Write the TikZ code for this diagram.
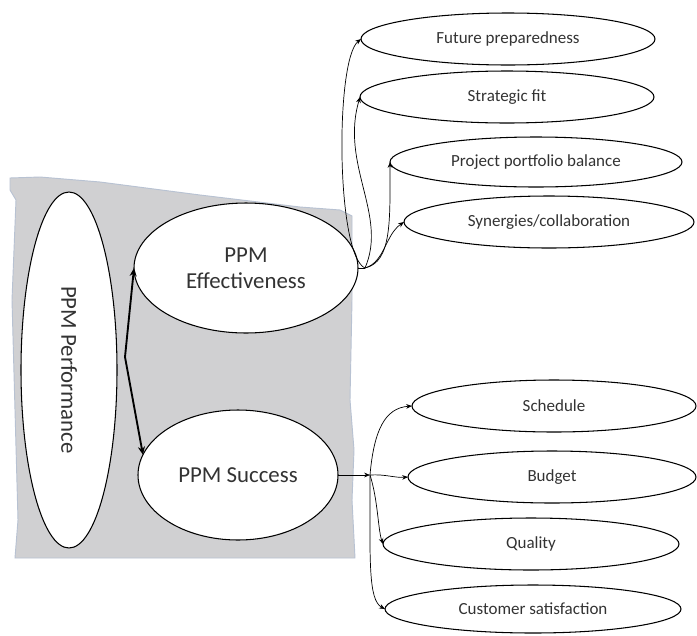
\documentclass[tikz,border=0pt]{standalone}
\usepackage{fontspec}
\setmainfont{Carlito}
\usetikzlibrary{shapes.geometric,arrows.meta}

\begin{document}
\begin{tikzpicture}[x=0.03cm,y=-0.03cm,
    oval/.style={draw=borderColour, line width=0.9pt, fill=white, ellipse, inner sep=0pt, outer sep=0pt, text=textColour},
    bigOval/.style={oval, font=\fontsize{19.5}{22}\selectfont, align=center},
    smallOval/.style={oval, font=\fontsize{14.5}{17}\selectfont},
    link/.style={line width=0.6pt, -{Stealth[length=5pt,width=4pt]}},
    bigLink/.style={line width=1.6pt, -{Stealth[length=7pt,width=6pt]}}]
    \definecolor{borderColour}{HTML}{000000}
    \definecolor{fillColour}{HTML}{D0D0D2}
    \definecolor{edgeColour}{HTML}{B8C2D2}
    \definecolor{textColour}{HTML}{333333}

    \def\px{0.03cm}

    \useasboundingbox (0,0) rectangle (697,635);

    % Grey background
    \filldraw[fill=fillColour, draw=edgeColour, line width=0.8pt]
        (10,178) -- (40,177) -- (100,182) -- (200,195) -- (300,207) -- (340,210)
        -- (352,216) -- (352,300) -- (350,400) -- (354,450) -- (352,500) -- (355,558)
        -- (15,558) -- (18,520) -- (12,300) -- (16,200) -- (10,190) -- cycle;

    % Main constructs
    \node[oval, rotate=-90, minimum width=356*\px, minimum height=96*\px,
        font=\fontsize{19.5}{22}\selectfont] (perf) at (69,370) {PPM Performance};
    \node[bigOval, minimum width=224*\px, minimum height=130*\px] (eff) at (246,268) {PPM\\Effectiveness};
    \node[bigOval, minimum width=200*\px, minimum height=130*\px] (succ) at (238,475) {PPM Success};

    % Effectiveness dimensions
    \node[smallOval, minimum width=294*\px, minimum height=52*\px] (fp) at (508,39) {Future preparedness};
    \node[smallOval, minimum width=294*\px, minimum height=52*\px] (sf) at (507,97) {Strategic fit};
    \node[smallOval, minimum width=292*\px, minimum height=50*\px] (ppb) at (536,162) {Project portfolio balance};
    \node[smallOval, minimum width=290*\px, minimum height=52*\px] (syn) at (549,222) {Synergies/collaboration};

    % Success dimensions
    \node[smallOval, minimum width=284*\px, minimum height=52*\px] (sch) at (554,406) {Schedule};
    \node[smallOval, minimum width=288*\px, minimum height=52*\px] (bud) at (552,477) {Budget};
    \node[smallOval, minimum width=296*\px, minimum height=52*\px] (qual) at (531,544) {Quality};
    \node[smallOval, minimum width=296*\px, minimum height=48*\px] (cust) at (533,609) {Customer satisfaction};

    % Branch points
    \coordinate (perfHub) at (125,357);
    \coordinate (effHub) at (365,268);
    \coordinate (sucHub) at (370,475);

    % Performance to its two parts
    \draw[bigLink] (perfHub) -- (eff.west);
    \draw[bigLink] (perfHub) -- (succ.168);

    % Effectiveness links
    \draw[line width=0.6pt] (eff.east) -- (effHub);
    \draw[link] (effHub) .. controls (336,255) and (335,60) .. (fp.west);
    \draw[link] (effHub) .. controls (388,215) and (340,165) .. (sf.west);
    \draw[link] (effHub) .. controls (392,262) and (390,220) .. (ppb.west);
    \draw[link] (effHub) .. controls (385,262) and (385,235) .. (syn.west);

    % Success links
    \draw[link] (succ.east) -- (sucHub);
    \draw[link] (sucHub) .. controls (374,430) and (385,408) .. (sch.west);
    \draw[link] (sucHub) .. controls (385,474) and (395,478) .. (bud.west);
    \draw[link] (sucHub) .. controls (378,500) and (378,530) .. (qual.west);
    \draw[link] (sucHub) .. controls (370,560) and (368,600) .. (cust.west);

\end{tikzpicture}
\end{document}
